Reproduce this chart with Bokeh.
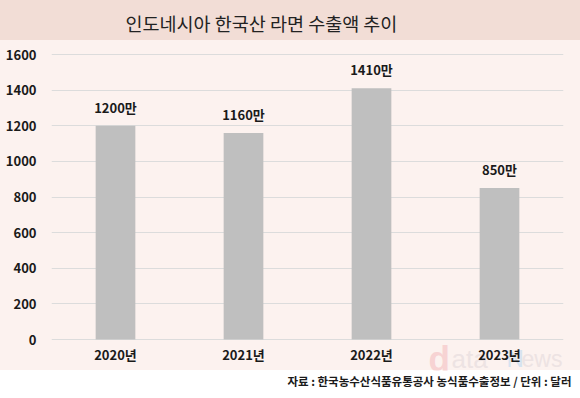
from bokeh.plotting import figure
from bokeh.models import ColumnDataSource, FixedTicker, Label, FactorRange, Range1d, Title
from bokeh.core.properties import value
from bokeh.embed import file_html
from bokeh.resources import INLINE

years = ["2020년", "2021년", "2022년", "2023년"]
amounts = [1200, 1160, 1410, 850]
amount_labels = ["1200만", "1160만", "1410만", "850만"]
y_ticks = [0, 200, 400, 600, 800, 1000, 1200, 1400, 1600]

title_text = "인도네시아 한국산 라면 수출액 추이"
source_text = "자료 : 한국농수산식품유통공사 농식품수출정보 / 단위 : 달러"

FONT = "Noto Sans CJK KR"
INK = "#1a1a1a"

src = ColumnDataSource(dict(x=years, y=amounts, lab=amount_labels, zero=[0] * len(years)))

p = figure(width=580, height=398, output_backend="svg", toolbar_location=None,
           x_range=FactorRange(*years), y_range=Range1d(-174, 1678.6),
           x_axis_location=None,
           min_border_left=51, min_border_right=17, min_border_top=40, min_border_bottom=28)
p.outline_line_color = None
p.background_fill_alpha = 0
p.border_fill_alpha = 0
p.styles = {"background": "linear-gradient(to bottom, #f2ddd6 0px, #f2ddd6 40px, "
                          "#fcf2ef 40px, #fcf2ef 370px, #ffffff 370px, #ffffff 398px)"}

p.title = Title(text=title_text, align="left", offset=74, standoff=8, vertical_align="middle",
                text_font=FONT, text_font_size="18.5px", text_font_style="normal",
                text_color="#222222")
p.add_layout(Title(text=source_text, align="right", offset=-8, standoff=3, vertical_align="middle",
                   text_font=FONT, text_font_size="11.5px", text_font_style="bold",
                   text_color=INK), "below")

# watermark
for txt, xx, sz, col, st in [("d", 377, "35px", "#f7d3d3", "bold"),
                              ("ata", 400, "26px", "#ede3e3", "normal"),
                              ("N", 455, "24px", "#d6e3f0", "normal"),
                              ("ews", 470, "23px", "#ede3e3", "normal")]:
    p.add_layout(Label(x=xx, y=12, x_units="screen", y_units="screen", text=txt,
                       text_font="Liberation Sans", text_font_size=sz, text_color=col,
                       text_font_style=st, text_baseline="alphabetic", level="underlay"))

p.xgrid.grid_line_color = None
p.ygrid.grid_line_color = "#dcdcdc"
p.ygrid.grid_line_width = 1
p.yaxis.ticker = FixedTicker(ticks=y_ticks)

p.vbar(x="x", top="y", bottom=0, width=0.31, source=src, fill_color="#bfbfbf", line_color=None)
p.text(x="x", y="y", text="lab", source=src, text_align="center", text_baseline="bottom",
       y_offset=-9, text_font=value(FONT), text_font_size="13px", text_font_style="bold",
       text_color=INK)
# category labels under the baseline
p.text(x="x", y="zero", text="x", source=src, text_align="center", text_baseline="middle",
       y_offset=15, text_font=value(FONT), text_font_size="13px", text_font_style="bold",
       text_color=INK)

p.yaxis.axis_line_color = None
p.yaxis.major_tick_line_color = None
p.yaxis.minor_tick_line_color = None
p.yaxis.major_label_text_font = FONT
p.yaxis.major_label_text_font_size = "13px"
p.yaxis.major_label_text_font_style = "bold"
p.yaxis.major_label_text_color = INK
p.yaxis.major_label_standoff = 9

open("out.html", "w").write(file_html(p, INLINE))
